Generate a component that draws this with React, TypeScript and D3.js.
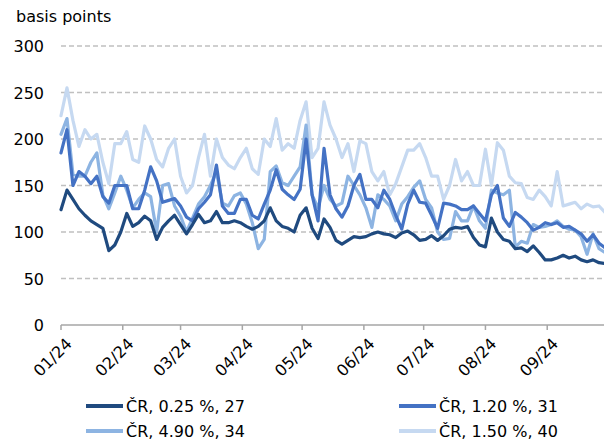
import React from 'react';
import * as d3 from 'd3';

// spreads, basis points, one reading every 3 days from 1 Jan 2024
const s025 = [124,145,135,125,118,112,108,104,80,86,100,120,106,110,117,112,92,105,112,118,108,98,108,
  119,110,112,122,110,110,112,110,106,103,106,112,126,112,106,104,100,118,126,104,93,114,
  105,91,87,91,95,94,95,98,100,98,97,94,99,101,97,91,92,96,91,96,103,105,104,
  106,94,86,84,115,100,92,90,82,83,79,85,78,70,70,72,75,72,74,70,68,70,67,66];
const s120 = [185,210,150,165,160,152,160,138,131,150,150,150,125,125,145,170,155,132,134,136,128,116,112,
  125,132,140,172,128,120,120,135,135,118,114,130,145,167,146,140,135,146,200,140,112,190,
  140,125,116,128,150,162,135,135,126,145,135,118,103,130,145,132,131,118,104,131,130,128,124,
  124,128,120,112,140,150,115,106,121,116,110,102,105,110,108,110,105,106,102,98,90,97,88,83];
const s490 = [205,222,162,160,160,175,185,140,125,142,160,145,126,135,142,138,100,150,152,128,117,100,115,
  130,138,150,165,131,128,139,142,130,110,82,92,165,171,153,150,160,170,215,140,126,150,
  135,128,131,160,150,140,126,105,140,135,128,112,130,138,148,155,135,126,100,92,93,122,112,
  112,128,112,104,145,142,140,145,84,90,88,108,105,106,108,112,106,103,102,95,76,98,82,78];
const s150 = [225,255,220,192,210,200,205,175,152,195,195,208,178,175,214,200,178,170,190,200,160,142,150,
  180,205,160,200,180,172,168,180,190,168,162,200,192,222,188,195,190,220,240,180,190,240,
  215,200,180,195,165,198,195,165,155,165,140,152,170,188,188,195,180,160,160,135,150,178,155,
  165,150,150,189,150,196,188,160,153,152,137,135,145,138,128,165,128,130,132,125,130,127,128,121];

const seriesNames = ['ČR, 0.25 %, 27', 'ČR, 1.20 %, 31', 'ČR, 4.90 %, 34', 'ČR, 1.50 %, 40'];
const yTicks = [0, 50, 100, 150, 200, 250, 300];

const start = new Date(2024, 0, 1);
const end = new Date(2024, 8, 30);
const dates = s025.map((_, i) => d3.timeDay.offset(start, i * 3));
const months = d3.timeMonth.range(start, end);

const colors = ['#1f4a7f', '#4472c4', '#8db4e2', '#c6d9f1'];
const font = 'DejaVu Sans, Verdana, sans-serif';

export default function App() {
  const x = d3.scaleTime().domain([start, end]).range([61, 605]);
  const y = d3.scaleLinear().domain([0, 300]).range([325, 46]);
  const line = d3.line<number>()
    .x((_, i) => x(dates[i]))
    .y(v => y(v));

  const all = [s025, s120, s490, s150];
  // light ones underneath, dark on top
  const drawOrder = [3, 2, 1, 0];

  const legend = [
    { i: 0, x: 86, y: 406 },
    { i: 1, x: 399, y: 406 },
    { i: 2, x: 86, y: 431 },
    { i: 3, x: 399, y: 431 },
  ];

  return (
    <svg width={604} height={436} style={{ display: 'block', margin: '-8px 0 0 -8px', width: 612, height: 444 }}
      viewBox="0 0 612 444" fontFamily={font}>
      <text x={16} y={22} fontSize={16} fill="#000">basis points</text>
      {yTicks.map(t => (
        <g key={t}>
          {t > 0 && <line x1={61} x2={605} y1={y(t)} y2={y(t)} stroke="#c0c0c0" strokeWidth={1.3} strokeDasharray="5,3" />}
          <text x={44} y={y(t) + 6} fontSize={16} textAnchor="end" fill="#000">{t}</text>
        </g>
      ))}
      {drawOrder.map(k => (
        <path key={k} d={line(all[k]) || ''} fill="none" stroke={colors[k]} strokeWidth={3.2}
          strokeLinejoin="round" strokeLinecap="round" />
      ))}
      <line x1={61} x2={605} y1={325} y2={325} stroke="#a6a6a6" strokeWidth={1.5} />
      {months.map(m => (
        <g key={m.getTime()}>
          <line x1={x(m)} x2={x(m)} y1={325} y2={330} stroke="#a6a6a6" strokeWidth={1.5} />
          <text transform={`translate(${x(m) + 4},${337}) rotate(-45)`} textAnchor="end" dy="0.7em"
            fontSize={16} fill="#000">{d3.timeFormat('%m/%y')(m)}</text>
        </g>
      ))}
      {legend.map(l => (
        <g key={l.i}>
          <line x1={l.x} x2={l.x + 37} y1={l.y} y2={l.y} stroke={colors[l.i]} strokeWidth={4} />
          <text x={l.x + 40} y={l.y + 6} fontSize={16} fill="#000">{seriesNames[l.i]}</text>
        </g>
      ))}
    </svg>
  );
}
